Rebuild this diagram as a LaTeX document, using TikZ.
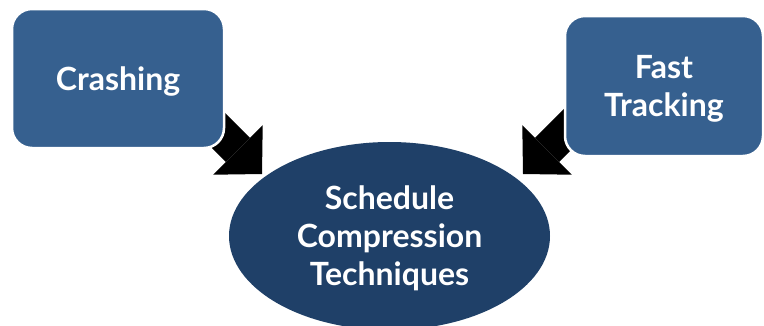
\documentclass[tikz,border=0pt]{standalone}
\usepackage{fontspec}
\setmainfont{Lato}
\usepackage{xcolor}
\usetikzlibrary{arrows.meta,positioning,shapes.geometric,backgrounds,calc}
\definecolor{boxblue}{RGB}{54,96,143}
\definecolor{ovalnavy}{RGB}{31,64,104}

\begin{document}
\begin{tikzpicture}[
  x=1pt, y=-1pt,
  font=\fontsize{32}{38}\selectfont\bfseries,
  method/.style={draw=white, line width=2.5pt, fill=boxblue, rounded corners=20pt, text=white, align=center, inner sep=0pt, text depth=0pt},
  goal/.style={ellipse, fill=ovalnavy, text=white, align=center, inner sep=0pt, text depth=0pt, minimum width=321pt, minimum height=188pt},
  bigarrow/.style={line width=34pt, -{Triangle[length=34pt, width=70pt, line width=0pt]}}
]
\useasboundingbox (0,0) rectangle (764,325);

\node[method, minimum width=212pt, minimum height=139pt] (crash) at (118,78.5) {Crashing};
\node[method, minimum width=198pt, minimum height=140pt] (fast) at (664,86) {Fast\\Tracking};
\node[goal] (sched) at (389.5,236) {Schedule\\Compression\\Techniques};

\coordinate (crashtip) at (262,174);
\coordinate (fasttip) at (523,174);

\begin{scope}[on background layer]
\draw[bigarrow] ($(crashtip)+(-72,-72)$) -- (crashtip);
\draw[bigarrow] ($(fasttip)+(72,-72)$) -- (fasttip);
\end{scope}
\end{tikzpicture}
\end{document}
